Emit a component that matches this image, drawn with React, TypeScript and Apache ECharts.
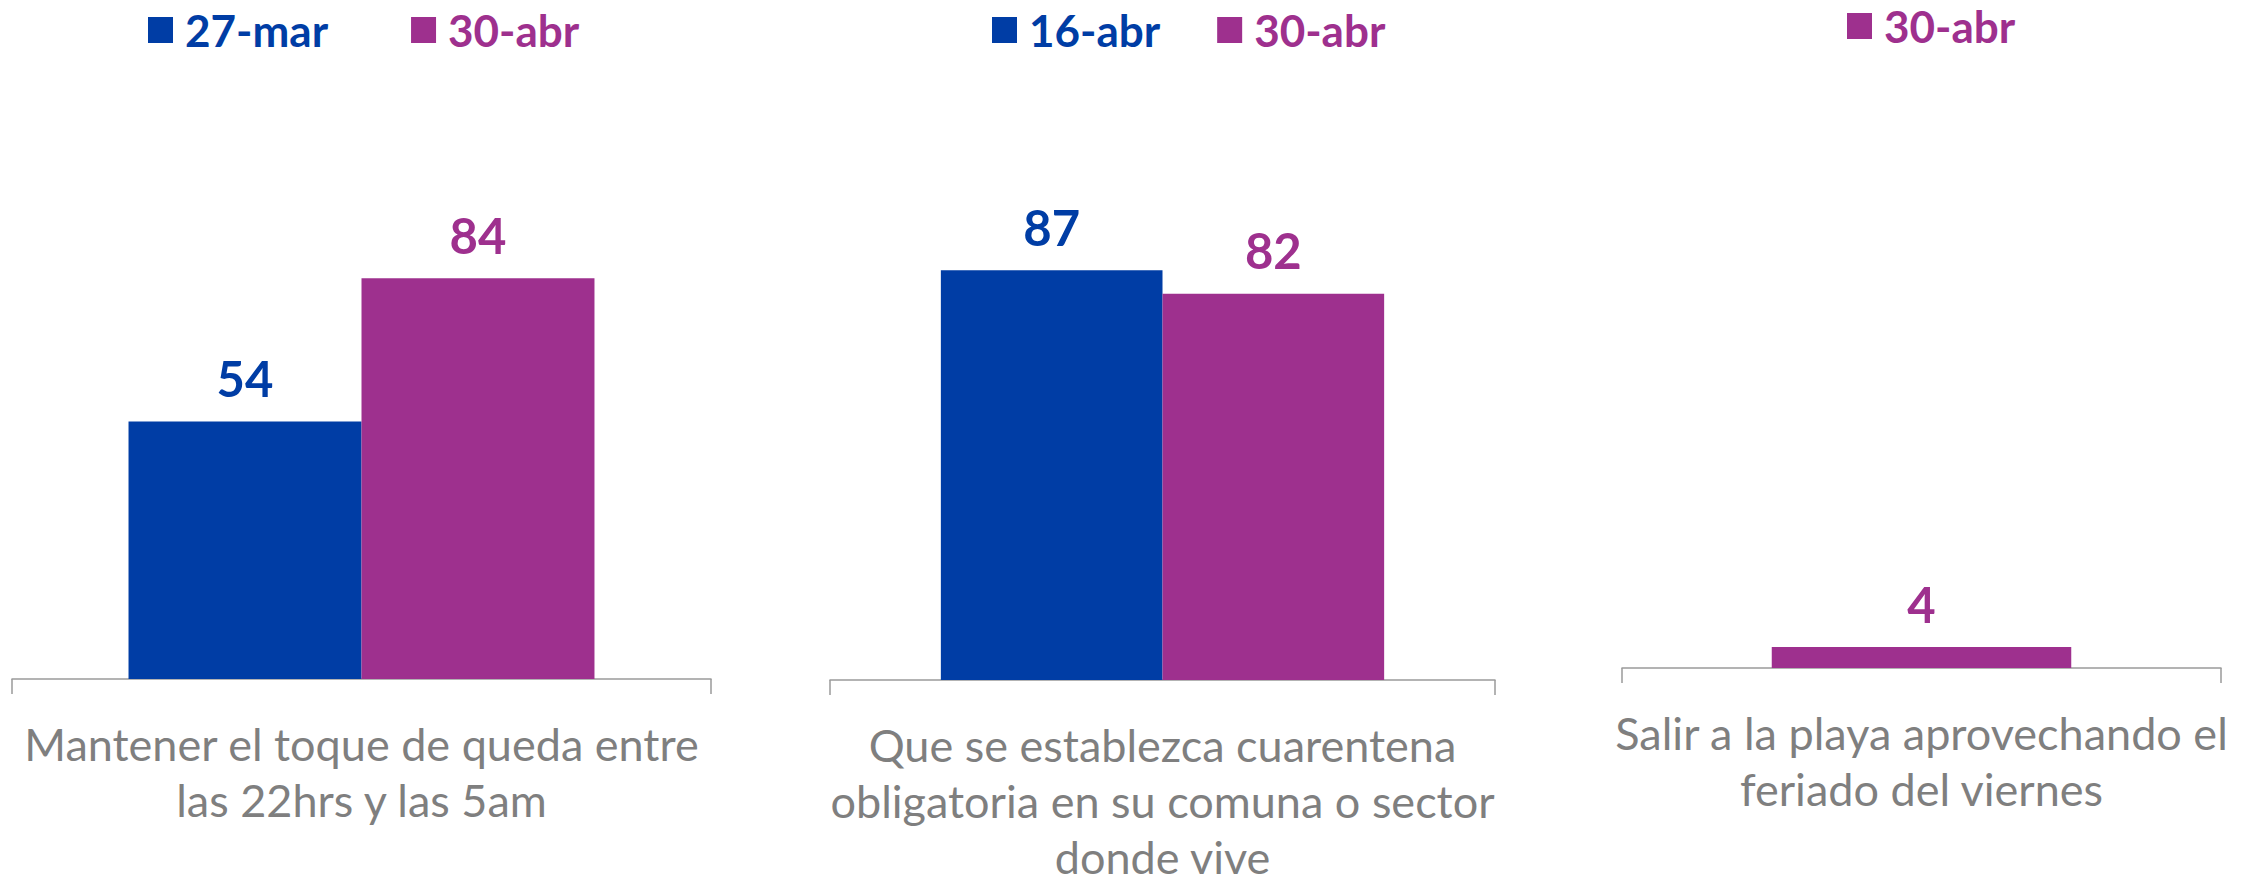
import React, { useEffect, useRef } from "react";
import * as echarts from "echarts";

// ---- data ----
const panel1Category = ["Mantener el toque de queda entre\nlas 22hrs y las 5am"];
const panel1Names = ["27-mar", "30-abr"];
const panel1First = [54];
const panel1Second = [84];

const panel2Category = ["Que se establezca cuarentena\nobligatoria en su comuna o sector\ndonde vive"];
const panel2Names = ["16-abr", "30-abr"];
const panel2First = [87];
const panel2Second = [82];

const panel3Category = ["Salir a la playa aprovechando el\nferiado del viernes"];
const panel3Names = ["30-abr"];
const panel3Values = [4];

const BLUE = "#003da5";
const PURPLE = "#9e308e";
const GRAY_TEXT = "#7f7f7f";
const AXIS_GRAY = "#9a9a9a";
const FONT = "Lato, 'Open Sans', sans-serif";

export default function App() {
  const ref = useRef<HTMLDivElement>(null);

  useEffect(() => {
    if (!ref.current) return;
    const chart = echarts.init(ref.current, undefined, { renderer: "svg" });

    const grids = [
      { left: 12, width: 699, top: 202, height: 477 },
      { left: 830, width: 665, top: 209, height: 477 },
      { left: 1622, width: 599, top: 143, height: 525 },
    ];
    const cats = [panel1Category, panel2Category, panel3Category];

    const xAxis = cats.map((c, i) => ({
      type: "category",
      gridIndex: i,
      data: c,
      axisLine: { show: true, lineStyle: { color: AXIS_GRAY, width: 1.5 } },
      axisTick: { show: true, length: 15, lineStyle: { color: AXIS_GRAY, width: 1.5 } },
      axisLabel: {
        interval: 0,
        margin: 37,
        color: GRAY_TEXT,
        fontSize: 45,
        lineHeight: 56,
        fontFamily: FONT,
        align: "center",
      },
    }));
    const yAxis = cats.map((_, i) => ({
      type: "value",
      gridIndex: i,
      min: 0,
      max: 100,
      show: false,
      splitLine: { show: false },
    }));

    const label = (color: string) => ({
      show: true,
      position: "top",
      distance: 19,
      color,
      fontSize: 49,
      fontWeight: "bold",
      fontFamily: FONT,
    });

    const series: any[] = [
      { type: "bar", name: panel1Names[0], xAxisIndex: 0, yAxisIndex: 0, data: panel1First, barWidth: "33.33%", barGap: "0%", itemStyle: { color: BLUE }, label: label(BLUE) },
      { type: "bar", name: panel1Names[1], xAxisIndex: 0, yAxisIndex: 0, data: panel1Second, barWidth: "33.33%", barGap: "0%", itemStyle: { color: PURPLE }, label: label(PURPLE) },
      { type: "bar", name: panel2Names[0], xAxisIndex: 1, yAxisIndex: 1, data: panel2First, barWidth: "33.33%", barGap: "0%", itemStyle: { color: BLUE }, label: label(BLUE) },
      { type: "bar", name: panel2Names[1], xAxisIndex: 1, yAxisIndex: 1, data: panel2Second, barWidth: "33.33%", barGap: "0%", itemStyle: { color: PURPLE }, label: label(PURPLE) },
      { type: "bar", name: panel3Names[0], xAxisIndex: 2, yAxisIndex: 2, data: panel3Values, barWidth: "50%", itemStyle: { color: PURPLE }, label: label(PURPLE) },
    ];

    const legendCommon = {
      orient: "horizontal",
      icon: "rect",
      itemWidth: 25,
      itemHeight: 26,
      selectedMode: false,
      padding: 0,
      textStyle: { fontSize: 44, lineHeight: 44, fontWeight: "bold", fontFamily: FONT, padding: [0, 0, 0, 7] },
    };
    const legendItem = (name: string, color: string) => ({ name, textStyle: { color }, itemStyle: { color } });

    chart.setOption({
      animation: false,
      backgroundColor: "#ffffff",
      grid: grids,
      xAxis,
      yAxis,
      series,
      legend: [
        { ...legendCommon, left: 148, top: 8, itemGap: 83, data: [legendItem(panel1Names[0], BLUE), legendItem(panel1Names[1], PURPLE)] },
        { ...legendCommon, left: 992, top: 8, itemGap: 57, data: [legendItem(panel2Names[0], BLUE), legendItem(panel2Names[1], PURPLE)] },
        { ...legendCommon, left: 1847, top: 4, itemGap: 57, data: [legendItem(panel3Names[0], PURPLE)] },
      ],
    });

    return () => chart.dispose();
  }, []);

  return (
    <div
      ref={ref}
      style={{ position: "fixed", left: 0, top: 0, width: 2261, height: 885, background: "#fff" }}
    />
  );
}
